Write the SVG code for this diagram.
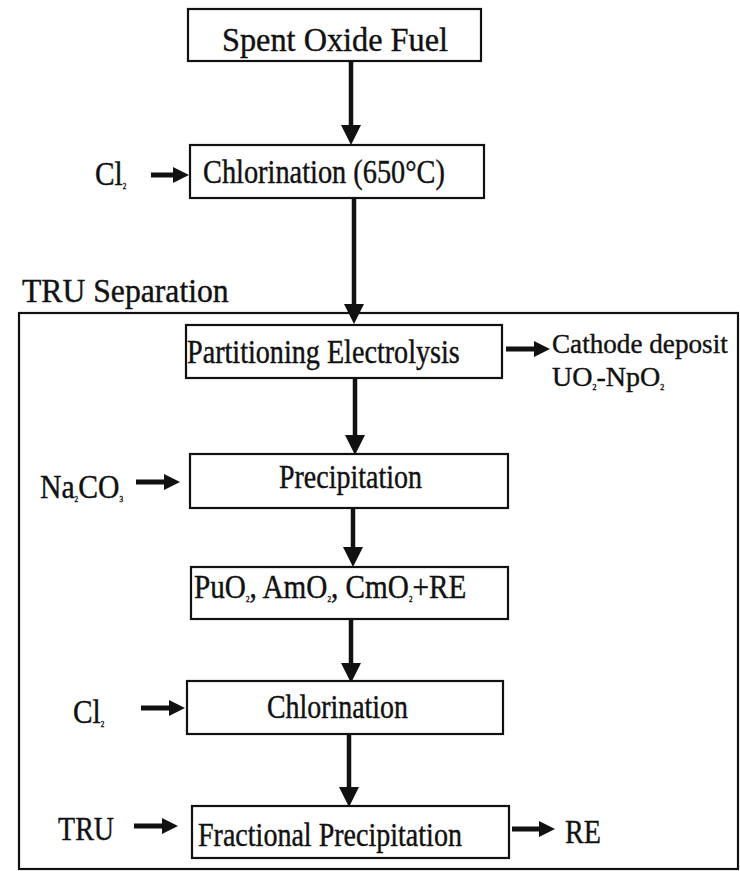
<svg xmlns="http://www.w3.org/2000/svg" width="740" height="871" viewBox="0 0 740 871">
<style>
.bg{fill:#ffffff}
.box{fill:#ffffff;stroke:#111;stroke-width:2.2}
.frame{fill:none;stroke:#111;stroke-width:2.2}
.t{font-family:"Liberation Serif","Times New Roman",serif;font-size:33px;fill:#111;stroke:#111;stroke-width:0.4}
.t.s{font-size:28px}
.sub{font-size:8px}
.v{stroke:#111;stroke-width:4.5;fill:none}
.h{stroke:#111;stroke-width:5;fill:none}
</style>
<defs>
<marker id="big" markerUnits="userSpaceOnUse" markerWidth="22" markerHeight="22" refX="10" refY="10" orient="auto" viewBox="0 0 22 22">
<path d="M0,0 L20,10 L0,20 Z" fill="#111"/>
</marker>
<marker id="small" markerUnits="userSpaceOnUse" markerWidth="18" markerHeight="18" refX="8" refY="8" orient="auto" viewBox="0 0 18 18">
<path d="M0,0 L16,8 L0,16 Z" fill="#111"/>
</marker>
</defs>
<rect class="bg" x="0" y="0" width="740" height="871"/>

<g id="tru-frame">
<rect class="frame" x="19" y="313" width="719" height="556"/>
<text class="t" transform="translate(22,302) scale(0.96,1)">TRU Separation</text>
</g>

<g id="connectors">
<line class="v" x1="351" y1="61" x2="351" y2="135" marker-end="url(#big)"/>
<line class="v" x1="354" y1="198" x2="354" y2="314" marker-end="url(#big)"/>
<line class="v" x1="355" y1="378" x2="355" y2="445" marker-end="url(#big)"/>
<line class="v" x1="353" y1="508" x2="353" y2="557" marker-end="url(#big)"/>
<line class="v" x1="351" y1="619" x2="351" y2="673" marker-end="url(#big)"/>
<line class="v" x1="349" y1="734" x2="349" y2="797" marker-end="url(#big)"/>
<line class="h" x1="151" y1="175" x2="181" y2="175" marker-end="url(#small)"/>
<line class="h" x1="506" y1="349" x2="542" y2="349" marker-end="url(#small)"/>
<line class="h" x1="136" y1="482" x2="172" y2="482" marker-end="url(#small)"/>
<line class="h" x1="141" y1="708" x2="177" y2="708" marker-end="url(#small)"/>
<line class="h" x1="134" y1="826" x2="170" y2="826" marker-end="url(#small)"/>
<line class="h" x1="512" y1="829" x2="547" y2="829" marker-end="url(#small)"/>
</g>

<g id="spent-oxide-fuel">
<rect class="box" x="188" y="9" width="293" height="52"/>
<text class="t" transform="translate(222,51) scale(0.979,1)">Spent Oxide Fuel</text>
</g>

<g id="chlorination-650">
<rect class="box" x="190" y="145" width="294" height="53"/>
<text class="t" transform="translate(203,183) scale(0.859,1)">Chlorination (650°C)</text>
</g>

<g id="cl2-input-1">
<text class="t" transform="translate(95,185) scale(0.89,1)">Cl<tspan class="sub" dy="4">2</tspan></text>
</g>

<g id="partitioning-electrolysis">
<rect class="box" x="186" y="325" width="316" height="53"/>
<text class="t" transform="translate(187,363) scale(0.853,1)">Partitioning Electrolysis</text>
</g>

<g id="cathode-deposit">
<text class="t s" transform="translate(552,353) scale(0.97,1)">Cathode deposit</text>
<text class="t s" transform="translate(552,386) scale(1,1)">UO<tspan class="sub" dy="4">2</tspan><tspan dy="-4">-NpO</tspan><tspan class="sub" dy="4">2</tspan></text>
</g>

<g id="precipitation">
<rect class="box" x="190" y="454" width="318" height="54"/>
<text class="t" transform="translate(279,488) scale(0.848,1)">Precipitation</text>
</g>

<g id="na2co3-input">
<text class="t" transform="translate(40,498) scale(0.9,1)">Na<tspan class="sub" dy="4">2</tspan><tspan dy="-4">CO</tspan><tspan class="sub" dy="4">3</tspan></text>
</g>

<g id="oxides">
<rect class="box" x="191" y="567" width="317" height="52"/>
<text class="t" transform="translate(194,598) scale(0.886,1)">PuO<tspan class="sub" dy="4">2</tspan><tspan dy="-4">, AmO</tspan><tspan class="sub" dy="4">2</tspan><tspan dy="-4">, CmO</tspan><tspan class="sub" dy="4">2</tspan><tspan dy="-4">+RE</tspan></text>
</g>

<g id="chlorination">
<rect class="box" x="187" y="681" width="316" height="53"/>
<text class="t" transform="translate(267,718) scale(0.845,1)">Chlorination</text>
</g>

<g id="cl2-input-2">
<text class="t" transform="translate(73,723) scale(0.89,1)">Cl<tspan class="sub" dy="4">2</tspan></text>
</g>

<g id="fractional-precipitation">
<rect class="box" x="192" y="806" width="317" height="52"/>
<text class="t" transform="translate(198,846) scale(0.85,1)">Fractional Precipitation</text>
</g>

<g id="tru-input">
<text class="t" transform="translate(58,840) scale(0.85,1)">TRU</text>
</g>

<g id="re-output">
<text class="t" transform="translate(565,843) scale(0.853,1)">RE</text>
</g>
</svg>
